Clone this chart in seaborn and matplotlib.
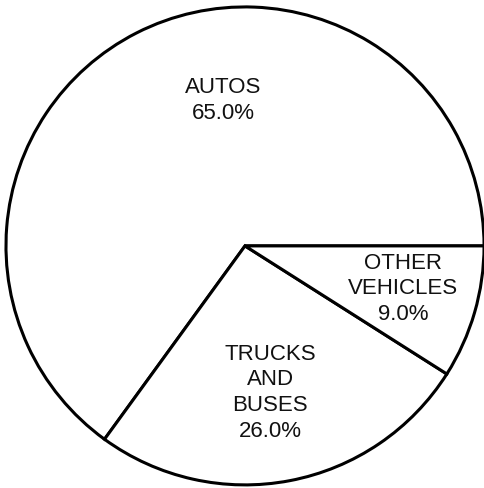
import matplotlib
matplotlib.use("Agg")
import matplotlib.pyplot as plt
import seaborn as sns

categories = ["AUTOS", "TRUCKS\nAND\nBUSES", "OTHER\nVEHICLES"]
shares = [65.0, 26.0, 9.0]
# where each label sits inside its slice (pie units, radius = 1)
label_pos = [(-0.09, 0.61), (0.105, -0.615), (0.66, -0.18)]

sns.set_style("white")
plt.rcParams["font.family"] = ["Liberation Sans", "DejaVu Sans"]

fig = plt.figure(figsize=(4.85, 4.88), dpi=100)
ax = fig.add_axes([0, 0, 1, 1])
wedges, _ = ax.pie(shares, startangle=0, counterclock=True,
                   colors=["white"] * len(shares),
                   wedgeprops=dict(edgecolor="black", linewidth=2.2))
for name, val, (x, y) in zip(categories, shares, label_pos):
    ax.text(x, y, f"{name}\n{val:.1f}%", ha="center", va="center",
            fontsize=16, linespacing=1.3, color="#111111")

ax.set_xlim(-1.025, 1.004)
ax.set_ylim(-1.013, 1.029)
ax.set_aspect("auto")
ax.axis("off")
fig.savefig("out.png", dpi=100, facecolor="white")
